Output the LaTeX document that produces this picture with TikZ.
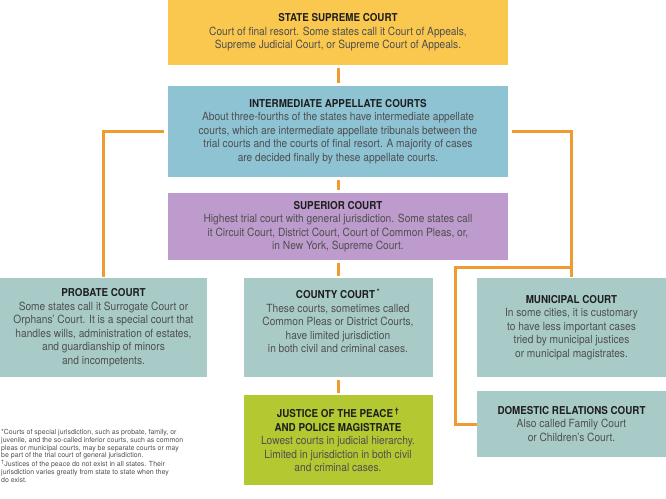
\documentclass[tikz,border=0pt]{standalone}
\usepackage{fontspec}
\setmainfont{TeX Gyre Heros}[FakeStretch=0.9]
\newfontfamily\notefont{TeX Gyre Heros}
\definecolor{supremeyellow}{HTML}{FAC84E}
\definecolor{appealblue}{HTML}{8EC3D4}
\definecolor{trialpurple}{HTML}{BD9BCC}
\definecolor{lowerteal}{HTML}{A8CBC7}
\definecolor{peacelime}{HTML}{B4C832}
\definecolor{linkorange}{HTML}{F09B32}
\definecolor{bodygray}{HTML}{4F4F4F}
\definecolor{titleblack}{HTML}{1E1E1E}
\newcommand{\courttitle}[1]{{\color{titleblack}\fontsize{10.9}{13.5}\selectfont\bfseries #1}}
\tikzset{
  court/.style={rectangle, inner sep=0pt, align=center, text=bodygray,
    font=\fontsize{11.3}{13.5}\selectfont},
  link/.style={draw=linkorange, line width=3pt},
}

\begin{document}
\begin{tikzpicture}[x=1pt,y=-1pt]
        \useasboundingbox (0,0) rectangle (666,498);
        \node[court, fill=supremeyellow, minimum width=340pt, minimum height=65pt] (supreme) at (338,32.5)
            {\courttitle{STATE SUPREME COURT}\\ Court of final resort. Some states call it Court of Appeals,\\ Supreme Judicial Court, or Supreme Court of Appeals.};
        \node[court, fill=appealblue, minimum width=340pt, minimum height=91pt] (inter) at (338,131.5)
            {\courttitle{INTERMEDIATE APPELLATE COURTS}\\ About three-fourths of the states have intermediate appellate\\ courts, which are intermediate appellate tribunals between the\\ trial courts and the courts of final resort. A majority of cases\\ are decided finally by these appellate courts.};
        \node[court, fill=trialpurple, minimum width=340pt, minimum height=67pt] (superior) at (338,226.5)
            {\courttitle{SUPERIOR COURT}\\ Highest trial court with general jurisdiction. Some states call\\ it Circuit Court, District Court, Court of Common Pleas, or,\\ in New York, Supreme Court.};
        \node[court, fill=lowerteal, minimum width=207pt, minimum height=99pt] (probate) at (103.5,327.5)
            {\courttitle{PROBATE COURT}\\ Some states call it Surrogate Court or\\ Orphans' Court. It is a special court that\\ handles wills, administration of estates,\\ and guardianship of minors\\ and incompetents.};
        \node[court, fill=lowerteal, minimum width=189pt, minimum height=99pt] (county) at (338,327.5)
            {\courttitle{COUNTY COURT\,\textsuperscript{*}}\\ These courts, sometimes called\\ Common Pleas or District Courts,\\ have limited jurisdiction\\ in both civil and criminal cases.\\ \mbox{}};
        \node[court, fill=lowerteal, minimum width=189pt, minimum height=99pt] (municipal) at (571.5,327.5)
            {\courttitle{MUNICIPAL COURT}\\ In some cities, it is customary\\ to have less important cases\\ tried by municipal justices\\ or municipal magistrates.};
        \node[court, fill=lowerteal, minimum width=189pt, minimum height=66pt] (domestic) at (571.5,424)
            {\courttitle{DOMESTIC RELATIONS COURT}\\ Also called Family Court\\ or Children's Court.};
        \node[court, fill=peacelime, minimum width=189pt, minimum height=90pt] (justice) at (338,440)
            {\courttitle{JUSTICE OF THE PEACE\,\textsuperscript{†}}\\ \courttitle{AND POLICE MAGISTRATE}\\ Lowest courts in judicial hierarchy.\\ Limited in jurisdiction in both civil\\ and criminal cases.};
        \node[anchor=north west, inner sep=0pt, align=left, text=bodygray, font=\notefont\fontsize{7}{7.8}\selectfont] (notes) at (1,429)
            {*Courts of special jurisdiction, such as probate, family, or\\ juvenile, and the so-called inferior courts, such as common\\ pleas or municipal courts, may be separate courts or may\\ be part of the trial court of general jurisdiction.\\ \textsuperscript{†}Justices of the peace do not exist in all states. Their\\ jurisdiction varies greatly from state to state when they\\ do exist.};
        % connectors
        \draw[link, shorten <=3pt, shorten >=3pt] (supreme) -- (inter);
        \draw[link, shorten <=3pt, shorten >=3pt] (inter) -- (superior);
        \draw[link, shorten <=3pt, shorten >=2pt] (superior) -- (county);
        \draw[link, shorten <=3pt, shorten >=2pt] (county) -- (justice);
        \draw[link, shorten <=4pt, shorten >=1pt] (inter.west) -| (probate.north);
        \draw[link, shorten <=4pt, shorten >=1pt] (inter.east) -| (municipal.north);
        \coordinate (fork) at (municipal.north |- 0,267);
        \coordinate (bend) at (455,267);
        \draw[link] (fork) -- (bend) |- (domestic.west);
    \end{tikzpicture}
\end{document}
